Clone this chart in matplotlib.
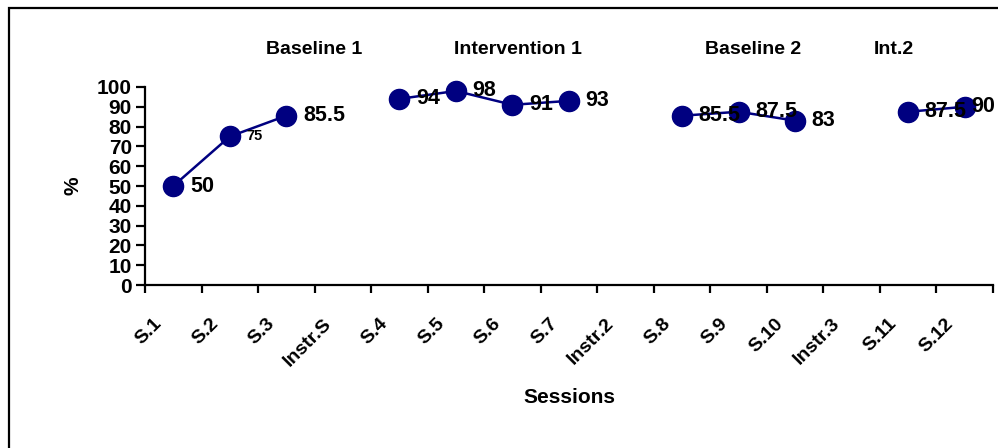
import numpy as np
import matplotlib.pyplot as plt
from matplotlib import rc
from matplotlib.patches import Rectangle
from matplotlib.transforms import ScaledTranslation

rc('font', **{'family': 'sans-serif', 'sans-serif': ['Liberation Sans', 'DejaVu Sans'],
              'weight': 'bold'})

sessions = ['S.1', 'S.2', 'S.3', 'Instr.S', 'S.4', 'S.5', 'S.6', 'S.7', 'Instr.2',
            'S.8', 'S.9', 'S.10', 'Instr.3', 'S.11', 'S.12']
# percent per session, nan where there was no scored session
scores = [50, 75, 85.5, np.nan, 94, 98, 91, 93, np.nan,
          85.5, 87.5, 83, np.nan, 87.5, 90]
score_labels = ['50', '75', '85.5', '', '94', '98', '91', '93', '',
                '85.5', '87.5', '83', '', '87.5', '90']
phases = ['Baseline 1', 'Intervention 1', 'Baseline 2', 'Int.2']
phase_x = [2.5, 6.1, 10.25, 12.75]

W, H = 998, 448
fig = plt.figure(figsize=(W / 100, H / 100), dpi=100)
fig.patches.append(Rectangle((9 / W, -0.1), 1.2, 1.1 - 8 / H, transform=fig.transFigure,
                             fill=False, lw=1.6, ec='black'))
ax = fig.add_axes([145 / W, 1 - 285 / H, (993 - 145) / W, (285 - 87) / H])

x = np.arange(len(sessions))
ax.plot(x, scores, color='#000080', lw=1.8, marker='o', ms=14.5,
        mfc='#000080', mec='#000080', clip_on=False, zorder=3)

for i, (v, lab) in enumerate(zip(scores, score_labels)):
    if not lab:
        continue
    size = 10.5 if lab == '75' else 15.5
    dx = 5 if i == len(scores) - 1 else 12
    ax.annotate(lab, (i, v), xytext=(dx, 0), textcoords='offset points',
                ha='left', va='center', fontsize=size, fontweight='bold',
                annotation_clip=False, zorder=4)

for name, px in zip(phases, phase_x):
    ax.text(px, 119, name, ha='center', va='center', fontsize=14,
            fontweight='bold', clip_on=False)

ax.set_xlim(-0.5, len(sessions) - 0.5)
ax.set_ylim(0, 100)
ax.set_yticks(np.arange(0, 101, 10))
ax.set_xticks(np.arange(-0.5, len(sessions), 1))
ax.set_xticklabels([])
ax.set_xticks(x, minor=True)
ax.set_xticklabels(sessions, minor=True, rotation=45, ha='right',
                   rotation_mode='anchor', va='center', fontsize=14,
                   fontweight='bold')
ax.tick_params(axis='x', which='minor', length=0, pad=26)
ax.tick_params(axis='x', which='major', length=5.5, width=1.6, direction='out')
ax.tick_params(axis='y', length=6.5, width=1.6, direction='out', pad=3,
               labelsize=15)
for t in ax.get_yticklabels():
    t.set_fontweight('bold')
shift = ScaledTranslation(-14 / 100, 0, fig.dpi_scale_trans)
for t in ax.get_xticklabels(minor=True):
    t.set_transform(t.get_transform() + shift)

for s in ['top', 'right']:
    ax.spines[s].set_visible(False)
for s in ['left', 'bottom']:
    ax.spines[s].set_linewidth(1.6)

ax.set_xlabel('Sessions', fontsize=15, fontweight='bold')
ax.xaxis.set_label_coords(0.5, -0.52)
ax.set_ylabel('%', fontsize=15, fontweight='bold')
ax.yaxis.set_label_coords(-0.074, 0.5)

fig.savefig('out.png', dpi=100)
